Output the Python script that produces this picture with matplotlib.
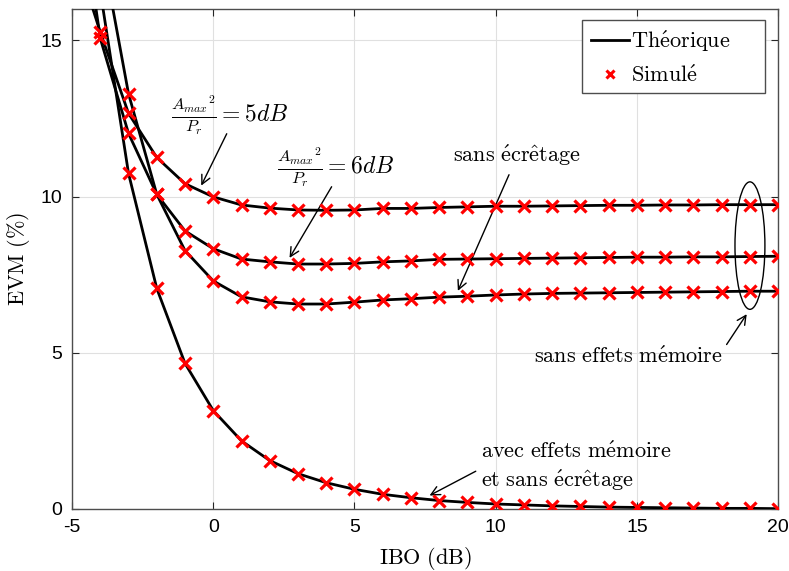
import numpy as np
import matplotlib
matplotlib.use('Agg')
import matplotlib.pyplot as plt
from matplotlib.patches import Ellipse, Rectangle

plt.rcParams['mathtext.fontset'] = 'cm'
plt.rcParams['axes.unicode_minus'] = False

# IBO axis (dB)
ibo_th = [-5, -4, -3, -2, -1, 0, 1, 2, 3, 4, 5, 6, 7, 8, 9, 10,
          11, 12, 13, 14, 15, 16, 17, 18, 19, 20]

# theoretical EVM (%) curves
th_5db = [18.1, 15.26, 12.66, 11.25, 10.41, 9.99, 9.73, 9.63, 9.57, 9.56, 9.57,
          9.62, 9.62, 9.65, 9.67, 9.69, 9.69, 9.70, 9.71, 9.72, 9.72, 9.73,
          9.73, 9.74, 9.74, 9.74]
th_6db = [21.3, 15.06, 12.02, 10.07, 8.90, 8.33, 8.00, 7.91, 7.84, 7.84, 7.86,
          7.91, 7.94, 7.99, 8.00, 8.01, 8.02, 8.03, 8.04, 8.05, 8.06, 8.06,
          8.07, 8.07, 8.08, 8.09]
th_noclip = [23.0, 18.2, 13.29, 10.07, 8.27, 7.30, 6.79, 6.63, 6.56, 6.56, 6.62,
             6.69, 6.73, 6.78, 6.81, 6.85, 6.88, 6.90, 6.91, 6.92, 6.93, 6.94,
             6.95, 6.96, 6.97, 6.97]
th_mem = [24.0, 16.58, 10.74, 7.06, 4.66, 3.15, 2.18, 1.55, 1.13, 0.84, 0.63,
          0.47, 0.36, 0.27, 0.21, 0.16, 0.13, 0.10, 0.08, 0.06, 0.05, 0.04,
          0.03, 0.02, 0.02, 0.01]

# simulated points (only the ones inside the plot range)
ibo_a = list(range(-4, 21))
sim_5db = [15.26, 12.66, 11.25, 10.41, 9.99, 9.73, 9.63, 9.57, 9.56, 9.57,
           9.62, 9.62, 9.65, 9.67, 9.69, 9.69, 9.70, 9.71, 9.72, 9.72, 9.73,
           9.73, 9.74, 9.74, 9.74]
sim_6db = [15.06, 12.02, 10.07, 8.90, 8.33, 8.00, 7.91, 7.84, 7.84, 7.86,
           7.91, 7.94, 7.99, 8.00, 8.01, 8.02, 8.03, 8.04, 8.05, 8.06, 8.06,
           8.07, 8.07, 8.08, 8.09]
ibo_b = list(range(-3, 21))
sim_noclip = [13.29, 10.07, 8.27, 7.30, 6.79, 6.63, 6.56, 6.56, 6.62,
              6.69, 6.73, 6.78, 6.81, 6.85, 6.88, 6.90, 6.91, 6.92, 6.93, 6.94,
              6.95, 6.96, 6.97, 6.97]
sim_mem = [10.74, 7.06, 4.66, 3.15, 2.18, 1.55, 1.13, 0.84, 0.63,
           0.47, 0.36, 0.27, 0.21, 0.16, 0.13, 0.10, 0.08, 0.06, 0.05, 0.04,
           0.03, 0.02, 0.02, 0.01]

fig = plt.figure(figsize=(7.89, 5.71), dpi=100)
ax = fig.add_axes([0.0913, 0.1086, 0.895, 0.8755])

for th in [th_5db, th_6db, th_noclip, th_mem]:
    ax.plot(ibo_th, th, color='k', lw=2.0, zorder=3)
for xs, sim in [(ibo_a, sim_5db), (ibo_a, sim_6db), (ibo_b, sim_noclip), (ibo_b, sim_mem)]:
    ax.plot(xs, sim, ls='none', marker='x', color='red', ms=8, mew=2.3, zorder=4)

ax.set_xlim(-5, 20)
ax.set_ylim(0, 16)
ax.set_xticks([-5, 0, 5, 10, 15, 20])
ax.set_yticks([0, 5, 10, 15])
ax.grid(True, color='#e0e0e0', lw=0.8)
ax.set_axisbelow(True)
ax.tick_params(direction='in', top=True, right=True, length=5, width=0.8,
               color='#262626', labelsize=14, pad=7)
for lab in ax.get_xticklabels() + ax.get_yticklabels():
    lab.set_fontfamily('Liberation Sans')
for s in ax.spines.values():
    s.set_color('#4d4d4d')
    s.set_linewidth(1.0)

ax.set_xlabel(r'$\mathrm{IBO\ (dB)}$', fontsize=16, labelpad=7)
ax.set_ylabel(r'$\mathrm{EVM\ (\%)}$', fontsize=16, labelpad=6)

# legend: MATLAB-style box, wider than its contents
h1, = ax.plot([], [], color='k', lw=2.0)
h2, = ax.plot([], [], ls='none', marker='x', color='red', ms=6, mew=2.2)
ax.legend([h1, h2], [r"$\mathrm{Th\'eorique}$", r"$\mathrm{Simul\'e}$"],
          loc='upper left', bbox_to_anchor=(0.7224, 0.978), borderaxespad=0,
          fontsize=16, frameon=False, handlelength=1.7, handletextpad=0.1,
          borderpad=0.4, labelspacing=0.5)
ax.add_patch(Rectangle((0.7224, 0.832), 0.2592, 0.146, transform=ax.transAxes,
                       facecolor='white', edgecolor='#4d4d4d', lw=1.0, zorder=5))

arr = dict(arrowstyle='->', color='k', lw=1.0, mutation_scale=16)

ax.text(0.6, 12.6, r'$\frac{{A_{max}}^{2}}{P_r}=5dB$', fontsize=17,
        ha='center', va='center')
ax.annotate('', xy=(-0.47, 10.27), xytext=(0.52, 12.09), arrowprops=arr)

ax.text(4.33, 10.95, r'$\frac{{A_{max}}^{2}}{P_r}=6dB$', fontsize=17,
        ha='center', va='center')
ax.annotate('', xy=(2.65, 7.96), xytext=(4.24, 10.39), arrowprops=arr)

ax.text(10.76, 11.32, r"$\mathrm{sans\ \'ecr\^etage}$", fontsize=16,
        ha='center', va='center')
ax.annotate('', xy=(8.62, 6.90), xytext=(10.51, 10.78), arrowprops=arr)

ax.text(14.71, 4.87, r"$\mathrm{sans\ effets\ m\'emoire}$", fontsize=16,
        ha='center', va='center')
ax.annotate('', xy=(18.94, 6.31), xytext=(18.12, 5.19), arrowprops=arr)
ax.add_patch(Ellipse((19.0, 8.43), width=1.06, height=4.08, fill=False,
                     color='k', lw=1.0, zorder=5))

ax.text(9.48, 1.35, "$\\mathrm{avec\\ effets\\ m\\'emoire}$\n$\\mathrm{et\\ sans\\ \\'ecr\\^etage}$",
        fontsize=16, ha='left', va='center', linespacing=1.3)
ax.annotate('', xy=(7.57, 0.39), xytext=(9.38, 1.25), arrowprops=arr)

fig.savefig('out.png', dpi=100)
